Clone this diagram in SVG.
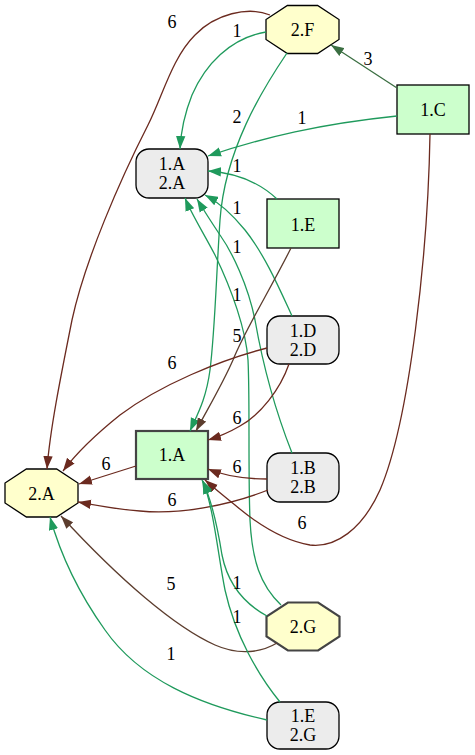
<svg xmlns="http://www.w3.org/2000/svg" width="475" height="755" viewBox="0 0 475 755">
  <style>
    text { font-family: "Liberation Serif", "Times New Roman", serif; font-size: 18px; fill: #000; text-anchor: middle; }
    .oct { fill: #ffffcc; stroke: #000; stroke-width: 1.3; }
    .box { fill: #ccffcc; stroke: #000; stroke-width: 1.3; }
    .mix { fill: #ececec; stroke: #000; stroke-width: 1.3; }
    .hot { stroke: #444; stroke-width: 2.2; }
    .e { fill: none; stroke-width: 1.3; }
    .g { stroke: #1f9a5c; marker-end: url(#ag); }
    .b { stroke: #6b2a1f; marker-end: url(#ab); }
    .gb { stroke: #5c3d2e; marker-end: url(#agb); }
    .dg { stroke: #3a6e41; marker-end: url(#adg); }
  </style>
  <defs>
    <marker id="ag" viewBox="0 0 13 10" refX="13" refY="5" markerWidth="13" markerHeight="10" markerUnits="userSpaceOnUse" orient="auto">
      <path d="M0,0.3 L13,5 L0,9.7 z" fill="#1f9a5c"/>
    </marker>
    <marker id="ab" viewBox="0 0 13 10" refX="13" refY="5" markerWidth="13" markerHeight="10" markerUnits="userSpaceOnUse" orient="auto">
      <path d="M0,0.3 L13,5 L0,9.7 z" fill="#6b2a1f"/>
    </marker>
    <marker id="agb" viewBox="0 0 13 10" refX="13" refY="5" markerWidth="13" markerHeight="10" markerUnits="userSpaceOnUse" orient="auto">
      <path d="M0,0.3 L13,5 L0,9.7 z" fill="#5c3d2e"/>
    </marker>
    <marker id="adg" viewBox="0 0 13 10" refX="13" refY="5" markerWidth="13" markerHeight="10" markerUnits="userSpaceOnUse" orient="auto">
      <path d="M0,0.3 L13,5 L0,9.7 z" fill="#3a6e41"/>
    </marker>
  </defs>

  <g id="nodes">
    <g id="n2F">
      <polygon class="oct" points="287.4,5.5 317.6,5.5 339,19.5 339,39.5 317.6,53.5 287.4,53.5 266,39.5 266,19.5"/>
      <text x="302.5" y="36">2.F</text>
    </g>
    <g id="n1C">
      <rect class="box" x="397" y="85" width="72" height="49"/>
      <text x="433" y="116">1.C</text>
    </g>
    <g id="n1A2A">
      <rect class="mix" x="136" y="149" width="72" height="49" rx="13"/>
      <text x="172" y="170">1.A</text>
      <text x="172" y="189">2.A</text>
    </g>
    <g id="n1E">
      <rect class="box" x="267" y="199" width="72" height="49"/>
      <text x="303" y="231">1.E</text>
    </g>
    <g id="n1D2D">
      <rect class="mix" x="267" y="316" width="72" height="48" rx="13"/>
      <text x="303" y="337">1.D</text>
      <text x="303" y="356">2.D</text>
    </g>
    <g id="n1A">
      <rect class="box hot" x="136" y="431" width="72" height="48"/>
      <text x="172" y="461">1.A</text>
    </g>
    <g id="n2A">
      <polygon class="oct" points="26.4,469 56.6,469 78,483 78,503 56.6,517 26.4,517 5,503 5,483"/>
      <text x="41.5" y="500">2.A</text>
    </g>
    <g id="n1B2B">
      <rect class="mix" x="267" y="453" width="72" height="49" rx="13"/>
      <text x="303" y="474">1.B</text>
      <text x="303" y="493">2.B</text>
    </g>
    <g id="n2G">
      <polygon class="oct hot" points="287.9,602.5 318.1,602.5 339.5,616.5 339.5,636.5 318.1,650.5 287.9,650.5 266.5,636.5 266.5,616.5"/>
      <text x="303" y="633">2.G</text>
    </g>
    <g id="n1E2G">
      <rect class="mix" x="267" y="702" width="72" height="47" rx="13"/>
      <text x="303" y="722">1.E</text>
      <text x="303" y="741">2.G</text>
    </g>
  </g>

  <g id="connectors">
    <!-- 2.F -> 2.A -->
    <path class="e b" d="M270,15 C248,6 215,14 195,35 C172,58 163,95 148,125 C120,180 85,260 72,320 C60,380 50,430 47,469"/>
    <text x="172" y="28">6</text>
    <!-- 2.F -> 1.A/2.A -->
    <path class="e g" d="M266,32 C230,38 205,65 192,95 C184,115 181,130 180,149"/>
    <text x="237" y="37">1</text>
    <!-- 2.F -> 1.A -->
    <path class="e g" d="M287,53 C262,90 225,150 220,220 C216,280 215,330 210,370 C206,400 197,415 190,431"/>
    <text x="237" y="123">2</text>
    <!-- 1.C -> 2.F -->
    <path class="e dg" d="M397,88 L331,45"/>
    <text x="368" y="65">3</text>
    <!-- 1.C -> 1.A/2.A -->
    <path class="e g" d="M397,116 C320,124 265,137 208,156"/>
    <text x="302" y="124">1</text>
    <!-- 1.E -> 1.A/2.A -->
    <path class="e g" d="M277,199 C262,185 240,173 208,171"/>
    <text x="237" y="172">1</text>
    <!-- 1.D/2.D -> 1.A/2.A -->
    <path class="e g" d="M292,316 C280,290 265,255 245,230 C232,214 220,203 205,195"/>
    <text x="237" y="214">1</text>
    <!-- 1.B/2.B -> 1.A/2.A -->
    <path class="e g" d="M292,453 C275,410 262,360 255,320 C248,285 232,252 220,235 C210,220 203,209 197,199"/>
    <text x="237" y="253">1</text>
    <!-- 2.G -> 1.A/2.A -->
    <path class="e g" d="M281,605 C260,585 252,560 250,520 C248,470 250,400 248,360 C246,330 232,290 215,255 C203,232 192,215 185,198"/>
    <text x="237" y="301">1</text>
    <!-- 1.E -> 1.A -->
    <path class="e gb" d="M291,248 C270,290 245,330 233,360 C222,385 207,410 196,431"/>
    <text x="237" y="342">5</text>
    <!-- 1.D/2.D -> 2.A -->
    <path class="e b" d="M267,348 C220,360 160,385 120,415 C95,435 75,455 63,471"/>
    <text x="172" y="369">6</text>
    <!-- 1.D/2.D -> 1.A -->
    <path class="e b" d="M289,364 C280,390 260,415 240,426 C228,433 218,437 208,440"/>
    <text x="237" y="424">6</text>
    <!-- 1.A -> 2.A -->
    <path class="e b" d="M136,466 L79,484"/>
    <text x="106" y="470">6</text>
    <!-- 1.B/2.B -> 1.A -->
    <path class="e b" d="M267,479 C245,479 225,476 208,469"/>
    <text x="237" y="473">6</text>
    <!-- 1.B/2.B -> 2.A -->
    <path class="e b" d="M268,490 C230,505 180,515 140,511 C115,509 95,505 78,502"/>
    <text x="172" y="506">6</text>
    <!-- 1.C -> 1.A -->
    <path class="e b" d="M430,134 C428,250 410,420 380,490 C362,530 335,548 310,545 C280,540 255,522 235,505 C225,497 214,488 205,480"/>
    <text x="302" y="529">6</text>
    <!-- 2.G -> 2.A -->
    <path class="e gb" d="M277,643 C262,652 240,656 215,645 C175,627 120,580 61,516"/>
    <text x="171" y="590">5</text>
    <!-- 2.G -> 1.A -->
    <path class="e g" d="M267,616 C245,604 228,585 222,555 C218,530 212,500 202,480"/>
    <text x="237" y="589">1</text>
    <!-- 1.E/2.G -> 1.A -->
    <path class="e g" d="M280,702 C258,675 235,635 225,590 C218,555 214,510 203,481"/>
    <text x="237" y="623">1</text>
    <!-- 1.E/2.G -> 2.A -->
    <path class="e g" d="M267,720 C200,705 140,680 105,630 C80,595 62,560 50,517"/>
    <text x="171" y="660">1</text>
  </g>
</svg>
